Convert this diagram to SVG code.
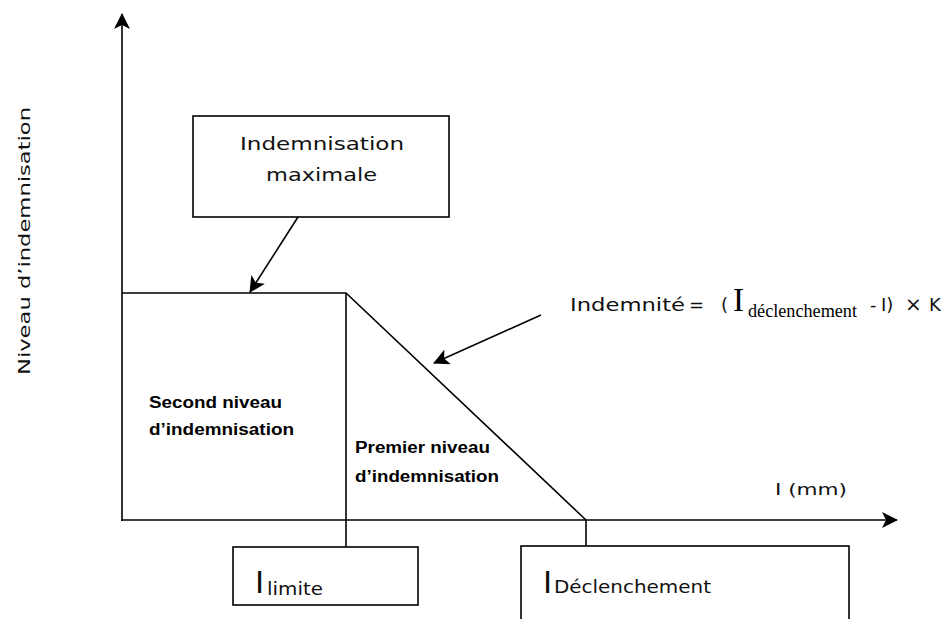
<svg xmlns="http://www.w3.org/2000/svg" width="951" height="619" viewBox="0 0 951 619">
<style>
.ln{stroke:#000;stroke-width:1.6;fill:none}
.bx{stroke:#000;stroke-width:1.6;fill:#fff}
.g{font-family:"DejaVu Sans","Liberation Sans",sans-serif;fill:#111}
.b{font-family:"Liberation Sans",Arial,sans-serif;font-weight:bold;font-size:16px;fill:#000}
.s{font-family:"Liberation Serif","Times New Roman",serif;fill:#000}
</style>
<defs>
<marker id="ah" markerUnits="userSpaceOnUse" markerWidth="16" markerHeight="16" viewBox="0 0 16 16" refX="15" refY="8" orient="auto">
<path d="M0,0 L16,8 L0,16 L4,8 z" fill="#000"/>
</marker>
</defs>
<rect width="951" height="619" fill="#fff"/>
<g id="connectors">
<line class="ln" x1="122" y1="521" x2="122" y2="14" marker-end="url(#ah)"/>
<line class="ln" x1="121" y1="520" x2="897" y2="520" marker-end="url(#ah)"/>
<polyline class="ln" points="122,293 346,293 586,520"/>
<line class="ln" x1="346" y1="293" x2="346" y2="547"/>
<line class="ln" x1="586" y1="520" x2="586" y2="546"/>
<line class="ln" x1="298" y1="217" x2="250" y2="292" marker-end="url(#ah)"/>
<line class="ln" x1="541" y1="315" x2="434" y2="363" marker-end="url(#ah)"/>
</g>
<g id="axis-y-label">
<text class="g" font-size="16" transform="translate(30,375) rotate(-90)" textLength="268" lengthAdjust="spacingAndGlyphs">Niveau d’indemnisation</text>
</g>
<g id="axis-x-label">
<text class="g" font-size="16" x="775" y="495" textLength="72" lengthAdjust="spacingAndGlyphs">I (mm)</text>
</g>
<g id="node-max">
<rect class="bx" x="193" y="116" width="256" height="101"/>
<text class="g" font-size="17" x="240" y="150" textLength="164" lengthAdjust="spacingAndGlyphs">Indemnisation</text>
<text class="g" font-size="17" x="266" y="181" textLength="111" lengthAdjust="spacingAndGlyphs">maximale</text>
</g>
<g id="node-formula">
<text class="g" font-size="18" x="570" y="311" textLength="115" lengthAdjust="spacingAndGlyphs">Indemnité</text>
<text class="g" font-size="18" x="689" y="311">=</text>
<text class="g" font-size="18" x="721" y="311">(</text>
<text class="s" font-size="33" x="733" y="311">I</text>
<text class="s" font-size="18" x="748" y="317" textLength="109" lengthAdjust="spacingAndGlyphs">déclenchement</text>
<text class="g" font-size="18" x="870" y="311">-</text>
<text class="g" font-size="18" x="881" y="311">I)</text>
<text class="g" font-size="20" x="905" y="311">×</text>
<text class="g" font-size="18" x="929" y="311">K</text>
</g>
<g id="label-second">
<text class="b" x="149" y="408" textLength="133" lengthAdjust="spacingAndGlyphs">Second niveau</text>
<text class="b" x="149" y="435" textLength="145" lengthAdjust="spacingAndGlyphs">d’indemnisation</text>
</g>
<g id="label-premier">
<text class="b" x="355" y="453" textLength="135" lengthAdjust="spacingAndGlyphs">Premier niveau</text>
<text class="b" x="355" y="482" textLength="144" lengthAdjust="spacingAndGlyphs">d’indemnisation</text>
</g>
<g id="node-ilimite">
<rect class="bx" x="233" y="547" width="185" height="58"/>
<text class="g" font-size="31" x="255" y="593">I</text>
<text class="g" font-size="17" x="267" y="595" textLength="56" lengthAdjust="spacingAndGlyphs">limite</text>
</g>
<g id="node-ideclenchement">
<rect class="bx" x="521" y="546" width="328" height="90"/>
<text class="g" font-size="31" x="543" y="593">I</text>
<text class="g" font-size="18" x="554" y="593" textLength="157" lengthAdjust="spacingAndGlyphs">Déclenchement</text>
</g>
</svg>
